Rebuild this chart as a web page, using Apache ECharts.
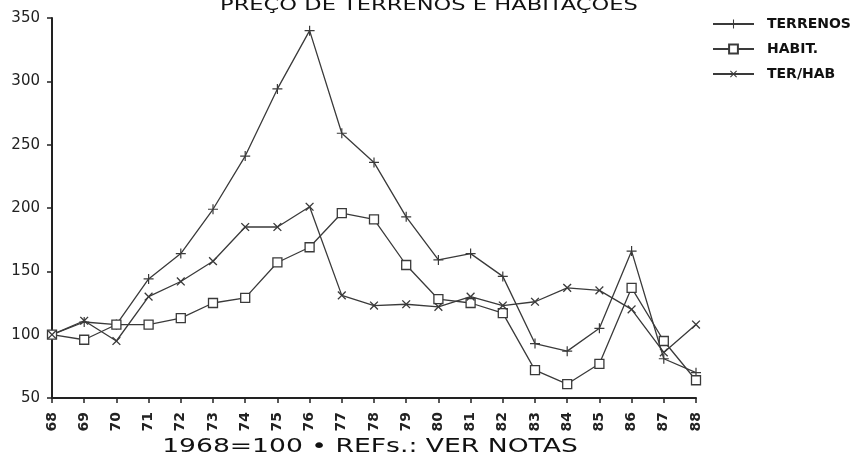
<!DOCTYPE html>
<html>
<head>
<meta charset="utf-8">
<script src="https://cdn.jsdelivr.net/npm/echarts@6/dist/echarts.min.js"></script>
<style>html,body{margin:0;padding:0;background:#fff}#c{width:857px;height:465px}</style>
</head>
<body>
<div id="c"></div>
<script>
var years = ['68','69','70','71','72','73','74','75','76','77','78','79','80','81','82','83','84','85','86','87','88'];
var terrenos = [100,110,108,144,164,199,241,294,340,259,236,193,159,164,146,93,87,105,166,81,70];
var habit    = [100,96,108,108,113,125,129,157,169,196,191,155,128,125,117,72,61,77,137,95,64];
var terHab   = [100,111,95,130,142,158,185,185,201,131,123,124,122,130,123,126,137,135,120,86,108];
var yTicks = [50,100,150,200,250,300,350];
var titleText = 'PREÇO DE TERRENOS E HABITAÇÕES';
var noteText = '1968=100 • REFs.: VER NOTAS';

var plusPath = 'path://M4.4,0 L5.6,0 L5.6,4.4 L10,4.4 L10,5.6 L5.6,5.6 L5.6,10 L4.4,10 L4.4,5.6 L0,5.6 L0,4.4 L4.4,4.4 Z';
var lineColor = '#3a3a3a';
var font = 'DejaVu Sans';

var chart = echarts.init(document.getElementById('c'), null, {renderer:'canvas'});
function mk(name, data, symbol, size, rot, fill) {
  return {
    name: name, type: 'line', data: data,
    symbol: symbol, symbolSize: size, symbolRotate: rot, showAllSymbol: true,
    lineStyle: {color: lineColor, width: 1.3},
    itemStyle: {color: fill, borderColor: lineColor, borderWidth: fill === '#fff' ? 1.3 : 0},
    emphasis: {disabled: true}, animation: false
  };
}
chart.setOption({
  backgroundColor: '#fff',
  animation: false,
  graphic: [
    {type: 'text', x: 429, y: 14, scaleX: 1.41, silent: true,
     style: {text: titleText, font: '16px "DejaVu Sans"', fill: '#111', textAlign: 'center', textVerticalAlign: 'bottom'}},
    {type: 'text', x: 370, y: 447, scaleX: 1.4, silent: true,
     style: {text: noteText, font: '19px "DejaVu Sans"', fill: '#111', textAlign: 'center', textVerticalAlign: 'middle'}}
  ],
  legend: {
    orient: 'vertical', left: 707, top: 12, itemGap: 11,
    itemWidth: 41, itemHeight: 11,
    textStyle: {fontFamily: font, fontWeight: 'bold', fontSize: 14, color: '#111', padding: [0,0,0,8]},
    data: ['TERRENOS','HABIT.','TER/HAB']
  },
  grid: {left: 52, right: 161, top: 18, bottom: 67, containLabel: false},
  xAxis: {
    type: 'category', data: years, boundaryGap: false,
    axisLine: {lineStyle: {color: '#222', width: 2}},
    axisTick: {show: true, length: 5, lineStyle: {color: '#222', width: 1.5}},
    axisLabel: {rotate: 90, fontFamily: font, fontWeight: 'bold', fontSize: 14, color: '#222', margin: 14, interval: 0}
  },
  yAxis: {
    type: 'value', min: yTicks[0], max: yTicks[yTicks.length-1], interval: 50,
    axisLine: {show: true, lineStyle: {color: '#222', width: 2}},
    axisTick: {show: true, length: 5, lineStyle: {color: '#222', width: 1.5}},
    splitLine: {show: false},
    axisLabel: {fontFamily: font, fontSize: 15, color: '#222', margin: 12}
  },
  series: [
    mk('TERRENOS', terrenos, plusPath, 10, 0, lineColor),
    mk('HABIT.', habit, 'rect', 9, 0, '#fff'),
    mk('TER/HAB', terHab, plusPath, 11, 45, lineColor)
  ]
});
</script>
</body>
</html>
